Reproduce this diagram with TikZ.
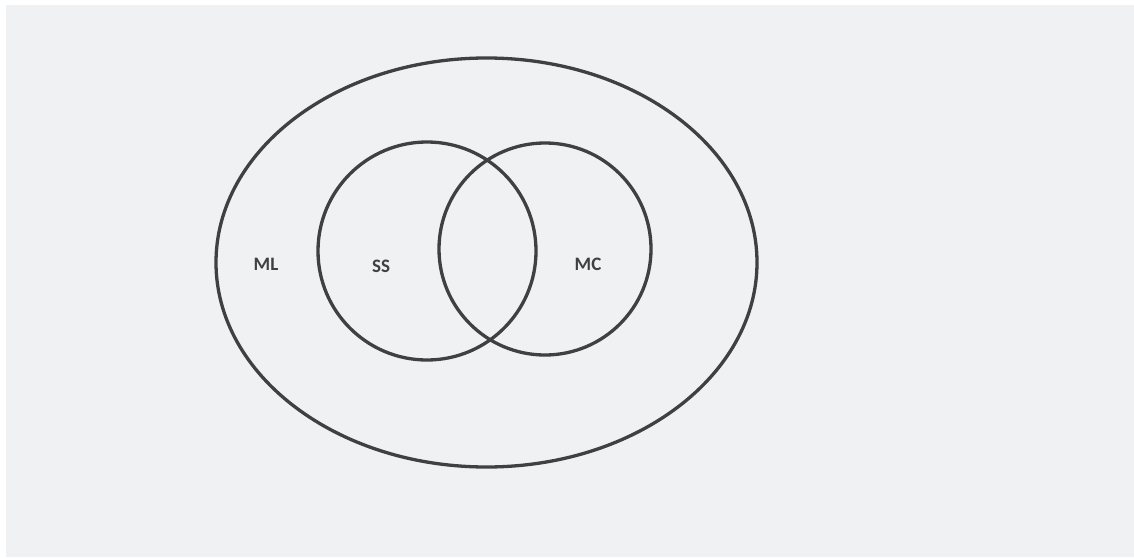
\documentclass[tikz,border=0pt]{standalone}
\usepackage{fontspec}
\setmainfont{Carlito}
\definecolor{bg}{HTML}{F0F1F3}
\definecolor{ink}{HTML}{404040}
\begin{document}
\begin{tikzpicture}[x=1pt,y=-1pt,
  setline/.style={draw=ink,line width=3.3pt},
  lab/.style={text=ink,font=\fontsize{19}{22}\selectfont\bfseries,inner sep=0pt}]
\useasboundingbox (0,0) rectangle (1134,557);
\fill[white] (0,0) rectangle (1134,557);
\fill[bg] (6,5) rectangle (1134,557);
\draw[setline] (486.5,262.5) ellipse [x radius=270.5, y radius=204.5];
\draw[setline] (427,251) circle [radius=109];
\draw[setline] (545,249) circle [radius=106];
\node[lab] (ml) at (266,264) {ML};
\node[lab] (ss) at (381,266) {SS};
\node[lab] (mc) at (588,264) {MC};
\end{tikzpicture}
\end{document}
